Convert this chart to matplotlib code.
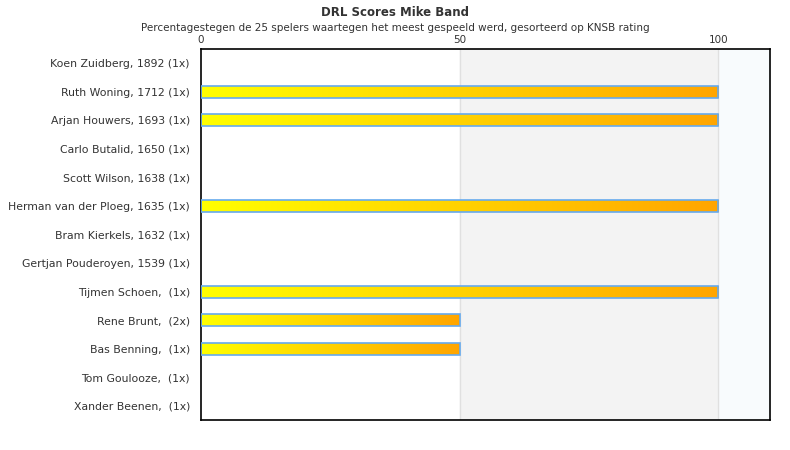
import numpy as np
import matplotlib.pyplot as plt
from matplotlib.colors import LinearSegmentedColormap
from matplotlib.patches import Rectangle

# Player data (top to bottom)
players = [
    "Koen Zuidberg, 1892 (1x)",
    "Ruth Woning, 1712 (1x)",
    "Arjan Houwers, 1693 (1x)",
    "Carlo Butalid, 1650 (1x)",
    "Scott Wilson, 1638 (1x)",
    "Herman van der Ploeg, 1635 (1x)",
    "Bram Kierkels, 1632 (1x)",
    "Gertjan Pouderoyen, 1539 (1x)",
    "Tijmen Schoen,  (1x)",
    "Rene Brunt,  (2x)",
    "Bas Benning,  (1x)",
    "Tom Goulooze,  (1x)",
    "Xander Beenen,  (1x)",
]
scores = [0, 100, 100, 0, 0, 100, 0, 0, 100, 50, 50, 0, 0]
xticks = [0, 50, 100]

fig = plt.figure(figsize=(7.9, 4.5), dpi=100)
ax = fig.add_axes([201 / 790, 30 / 450, 569 / 790, 371 / 450])

n = len(players)

# Background bands
ax.axvspan(50, 100, color='#f3f3f3', zorder=0)
ax.axvspan(100, 110, color='#f8fbfd', zorder=0)
for xv in (50, 100):
    ax.axvline(xv, color='#e0e0e0', linewidth=1, zorder=1)

grad = LinearSegmentedColormap.from_list("bar", ['#ffff00', '#ffa500'])
g = np.linspace(0, 1, 256).reshape(1, -1)
h = 0.42
for i, v in enumerate(scores):
    if v <= 0:
        continue
    ax.imshow(g, cmap=grad, aspect='auto', extent=[0, v, i + h / 2, i - h / 2],
              zorder=2, interpolation='bilinear')
    ax.add_patch(Rectangle((0, i - h / 2), v, h, fill=False,
                           edgecolor='#66aaee', linewidth=1.2, zorder=3))

ax.set_xlim(0, 110)
ax.set_ylim(n - 0.5, -0.5)

ax.set_yticks(range(n))
ax.set_yticklabels(players, fontsize=7.8, color='#333333')
ax.set_xticks(xticks)
ax.set_xticklabels([str(t) for t in xticks], fontsize=7.5, color='#333333')
ax.xaxis.tick_top()
ax.tick_params(axis='x', length=0, pad=3)
ax.tick_params(axis='y', length=0, pad=8)

for s in ax.spines.values():
    s.set_color('black')
    s.set_linewidth(1.2)

fig.text(0.5, 1 - 12 / 450, "DRL Scores Mike Band", ha='center', va='center',
         fontsize=8.5, fontweight='bold', color='#333333')
fig.text(0.5, 1 - 28 / 450,
         "Percentagestegen de 25 spelers waartegen het meest gespeeld werd, gesorteerd op KNSB rating",
         ha='center', va='center', fontsize=7.5, color='#333333')

fig.savefig("out.png", dpi=100)
